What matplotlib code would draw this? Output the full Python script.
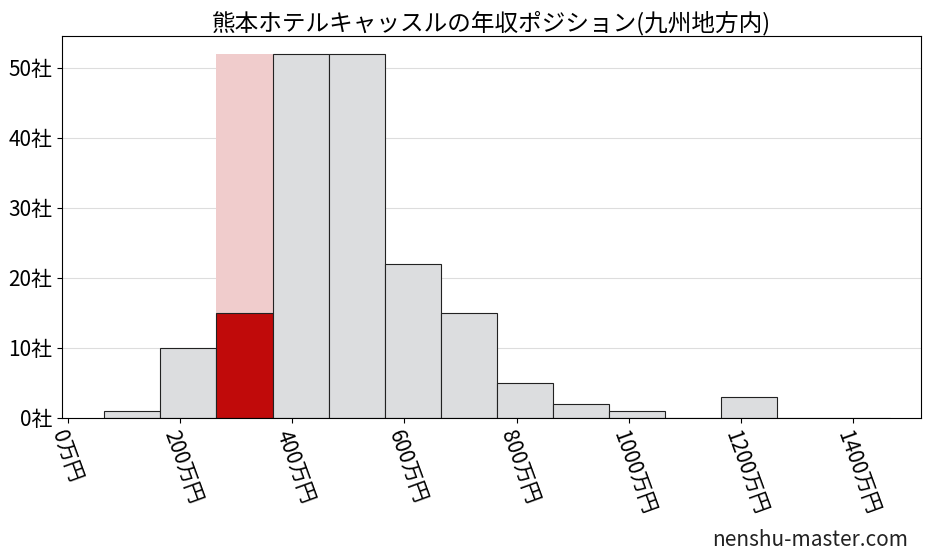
import matplotlib
matplotlib.use("Agg")
import matplotlib.pyplot as plt

plt.rcParams['font.family'] = ['Noto Sans CJK JP', 'DejaVu Sans']

bin_left = [65, 165, 265, 365, 465, 565, 665, 765, 865, 965, 1065, 1165, 1265, 1365]
counts = [1, 10, 15, 52, 52, 22, 15, 5, 2, 1, 0, 3, 0, 0]
highlight_idx = 2
xticks = [0, 200, 400, 600, 800, 1000, 1200, 1400]
yticks = [0, 10, 20, 30, 40, 50]

fig, ax = plt.subplots(figsize=(9.27, 5.57), dpi=100)
fig.subplots_adjust(left=0.067, right=0.993, top=0.935, bottom=0.25)

ax.bar(bin_left[highlight_idx], max(counts), width=100, align='edge',
       color='#f0cccc', zorder=1)
colors = ['#c00a0a' if i == highlight_idx else '#dcdddf' for i in range(len(counts))]
ax.bar(bin_left, counts, width=100, align='edge', color=colors,
       edgecolor='#222222', linewidth=0.8, zorder=2)

ax.set_xlim(-10, 1520)
ax.set_ylim(0, 54.5)
ax.set_xticks(xticks)
ax.set_xticklabels([f'{v}万円' for v in xticks], rotation=-70, ha='left',
                   rotation_mode='anchor', fontsize=15)
ax.set_yticks(yticks)
ax.set_yticklabels([f'{v}社' for v in yticks], fontsize=15)
ax.yaxis.grid(True, color='#dddddd', linewidth=0.8, zorder=0)
ax.set_axisbelow(True)
ax.set_title('熊本ホテルキャッスルの年収ポジション(九州地方内)', fontsize=17, pad=4)
fig.text(0.98, 0.02, 'nenshu-master.com', ha='right', fontsize=15, color='#222222')

fig.savefig('out.png')
